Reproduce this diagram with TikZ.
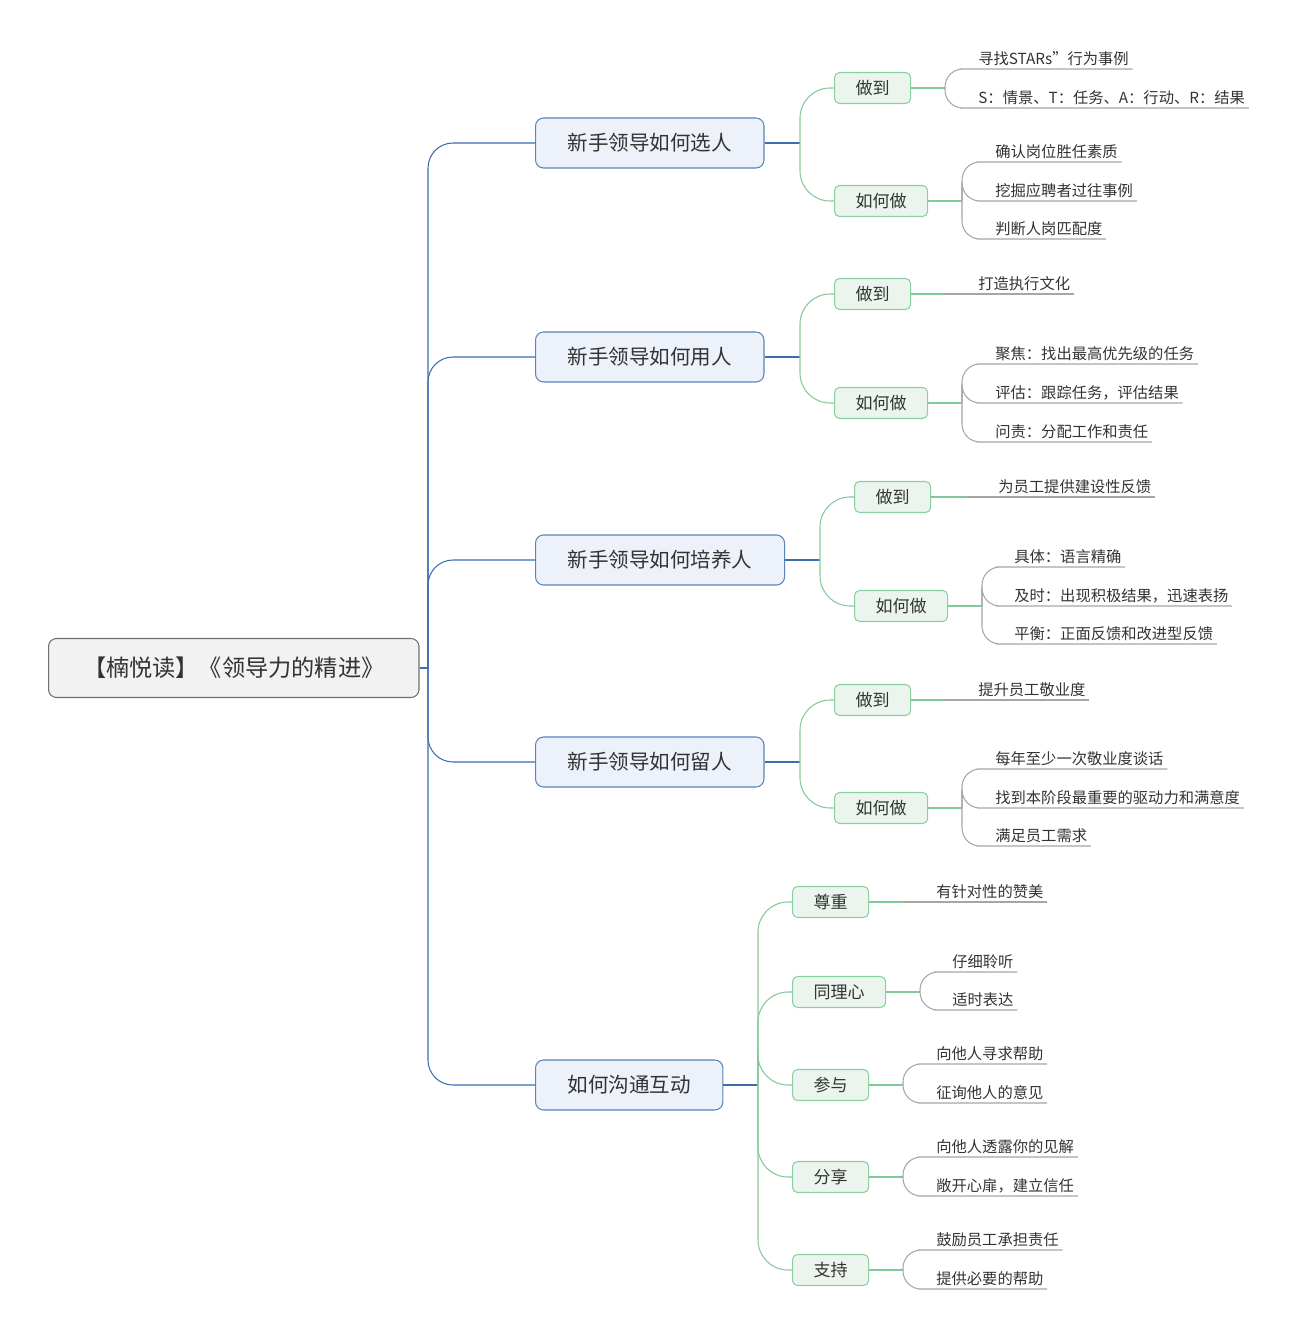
\documentclass[tikz,border=0pt]{standalone}
\usepackage{fontspec}
\setmainfont{Noto Sans CJK SC}
\usepackage{xcolor}
\usetikzlibrary{positioning}

\definecolor{mainblue}{HTML}{3B6DB0}
\definecolor{mainfill}{HTML}{EDF2FA}
\definecolor{subgreen}{HTML}{8ACFA0}
\definecolor{subfill}{HTML}{EBF5EE}
\definecolor{linegreen}{HTML}{82C99A}
\definecolor{leafgray}{HTML}{A6A6A6}
\definecolor{rootgray}{HTML}{6E6E6E}
\definecolor{rootfill}{HTML}{F2F2F2}
\definecolor{txt}{HTML}{333333}

\begin{document}
\begin{tikzpicture}[
    x=0.02cm, y=-0.02cm,
    root/.style={rectangle, draw=rootgray, fill=rootfill, rounded corners=0.16cm, line width=0.6pt, minimum height=1.18cm, inner xsep=0.69cm, anchor=west, text=txt, font=\fontsize{13.2}{15}\selectfont},
    topic/.style={rectangle, draw=mainblue!85, fill=mainfill, rounded corners=0.16cm, line width=0.6pt, minimum height=1cm, inner xsep=0.64cm, anchor=west, text=txt, font=\fontsize{11.7}{14}\selectfont},
    subtopic/.style={rectangle, draw=subgreen, fill=subfill, rounded corners=0.1cm, line width=0.6pt, minimum height=0.62cm, inner xsep=0.42cm, anchor=west, text=txt, font=\fontsize{9.7}{12}\selectfont},
    leaf/.style={anchor=south west, inner xsep=0pt, inner ysep=1.5pt, text=txt, font=\fontsize{8.7}{10}\selectfont},
    bline/.style={draw=mainblue, line width=0.6pt},
    gline/.style={draw=linegreen, line width=0.6pt},
    lline/.style={draw=leafgray, line width=0.6pt, rounded corners=0.36cm}
]
    \useasboundingbox (0,0) rectangle (1298,1337);

    % root and main topics
    \node[root] (root) at (48,668) {【楠悦读】《领导力的精进》};
    \node[topic] (xuan) at (535,143) {新手领导如何选人};
    \node[topic] (yong) at (535,357) {新手领导如何用人};
    \node[topic] (pei) at (535,560) {新手领导如何培养人};
    \node[topic] (liu) at (535,762) {新手领导如何留人};
    \node[topic] (gou) at (535,1085) {如何沟通互动};

    \coordinate (root-j) at (428,668);
    \draw[bline] (root.east) -- (root-j);
    \foreach \t in {xuan,yong,pei,liu,gou}
        \draw[bline, rounded corners=0.5cm] (root-j) |- (\t.west);

    % 选人
    \node[subtopic] (xuan-zd) at (834,88) {做到};
    \node[subtopic] (xuan-rh) at (834,201) {如何做};
    \coordinate (xuan-j) at (800,143);
    \draw[bline] (xuan.east) -- (xuan-j);
    \draw[gline, rounded corners=0.6cm] (xuan-j) |- (xuan-zd.west);
    \draw[gline, rounded corners=0.6cm] (xuan-j) |- (xuan-rh.west);

    \coordinate (xuan-zd-j) at (945,88);
    \draw[gline] (xuan-zd.east) -- (xuan-zd-j);
    \node[leaf] (xuan-zd-1) at (978,69) {寻找STARs”行为事例};
    \node[leaf] (xuan-zd-2) at (978,108) {S：情景、T：任务、A：行动、R：结果};
    \foreach \l in {1,2}
        \draw[lline] (xuan-zd-j) |- (xuan-zd-\l.south west) -- ([xshift=2pt]xuan-zd-\l.south east);

    \coordinate (xuan-rh-j) at (962,201);
    \draw[gline] (xuan-rh.east) -- (xuan-rh-j);
    \node[leaf] (xuan-rh-1) at (995,162) {确认岗位胜任素质};
    \node[leaf] (xuan-rh-2) at (995,201) {挖掘应聘者过往事例};
    \node[leaf] (xuan-rh-3) at (995,239) {判断人岗匹配度};
    \foreach \l in {1,2,3}
        \draw[lline] (xuan-rh-j) |- (xuan-rh-\l.south west) -- ([xshift=2pt]xuan-rh-\l.south east);

    % 用人
    \node[subtopic] (yong-zd) at (834,294) {做到};
    \node[subtopic] (yong-rh) at (834,403) {如何做};
    \coordinate (yong-j) at (800,357);
    \draw[bline] (yong.east) -- (yong-j);
    \draw[gline, rounded corners=0.6cm] (yong-j) |- (yong-zd.west);
    \draw[gline, rounded corners=0.6cm] (yong-j) |- (yong-rh.west);

    \coordinate (yong-zd-j) at (945,294);
    \draw[gline] (yong-zd.east) -- (yong-zd-j);
    \node[leaf] (yong-zd-1) at (978,294) {打造执行文化};
    \draw[lline] (yong-zd-j) -- (yong-zd-1.south west) -- ([xshift=2pt]yong-zd-1.south east);

    \coordinate (yong-rh-j) at (962,403);
    \draw[gline] (yong-rh.east) -- (yong-rh-j);
    \node[leaf] (yong-rh-1) at (995,364) {聚焦：找出最高优先级的任务};
    \node[leaf] (yong-rh-2) at (995,403) {评估：跟踪任务，评估结果};
    \node[leaf] (yong-rh-3) at (995,442) {问责：分配工作和责任};
    \foreach \l in {1,2,3}
        \draw[lline] (yong-rh-j) |- (yong-rh-\l.south west) -- ([xshift=2pt]yong-rh-\l.south east);

    % 培养人
    \node[subtopic] (pei-zd) at (854,497) {做到};
    \node[subtopic] (pei-rh) at (854,606) {如何做};
    \coordinate (pei-j) at (820,560);
    \draw[bline] (pei.east) -- (pei-j);
    \draw[gline, rounded corners=0.6cm] (pei-j) |- (pei-zd.west);
    \draw[gline, rounded corners=0.6cm] (pei-j) |- (pei-rh.west);

    \coordinate (pei-zd-j) at (967,497);
    \draw[gline] (pei-zd.east) -- (pei-zd-j);
    \node[leaf] (pei-zd-1) at (998,497) {为员工提供建设性反馈};
    \draw[lline] (pei-zd-j) -- (pei-zd-1.south west) -- ([xshift=2pt]pei-zd-1.south east);

    \coordinate (pei-rh-j) at (982,606);
    \draw[gline] (pei-rh.east) -- (pei-rh-j);
    \node[leaf] (pei-rh-1) at (1014,567) {具体：语言精确};
    \node[leaf] (pei-rh-2) at (1014,606) {及时：出现积极结果，迅速表扬};
    \node[leaf] (pei-rh-3) at (1014,644) {平衡：正面反馈和改进型反馈};
    \foreach \l in {1,2,3}
        \draw[lline] (pei-rh-j) |- (pei-rh-\l.south west) -- ([xshift=2pt]pei-rh-\l.south east);

    % 留人
    \node[subtopic] (liu-zd) at (834,700) {做到};
    \node[subtopic] (liu-rh) at (834,808) {如何做};
    \coordinate (liu-j) at (800,762);
    \draw[bline] (liu.east) -- (liu-j);
    \draw[gline, rounded corners=0.6cm] (liu-j) |- (liu-zd.west);
    \draw[gline, rounded corners=0.6cm] (liu-j) |- (liu-rh.west);

    \coordinate (liu-zd-j) at (945,700);
    \draw[gline] (liu-zd.east) -- (liu-zd-j);
    \node[leaf] (liu-zd-1) at (978,700) {提升员工敬业度};
    \draw[lline] (liu-zd-j) -- (liu-zd-1.south west) -- ([xshift=2pt]liu-zd-1.south east);

    \coordinate (liu-rh-j) at (962,808);
    \draw[gline] (liu-rh.east) -- (liu-rh-j);
    \node[leaf] (liu-rh-1) at (995,769) {每年至少一次敬业度谈话};
    \node[leaf] (liu-rh-2) at (995,808) {找到本阶段最重要的驱动力和满意度};
    \node[leaf] (liu-rh-3) at (995,846) {满足员工需求};
    \foreach \l in {1,2,3}
        \draw[lline] (liu-rh-j) |- (liu-rh-\l.south west) -- ([xshift=2pt]liu-rh-\l.south east);

    % 沟通互动
    \node[subtopic] (gou-zz) at (792,902) {尊重};
    \node[subtopic] (gou-tl) at (792,992) {同理心};
    \node[subtopic] (gou-cy) at (792,1085) {参与};
    \node[subtopic] (gou-fx) at (792,1177) {分享};
    \node[subtopic] (gou-zc) at (792,1270) {支持};
    \coordinate (gou-j) at (758,1085);
    \draw[bline] (gou.east) -- (gou-j);
    \foreach \s in {gou-zz,gou-tl,gou-cy,gou-fx,gou-zc}
        \draw[gline, rounded corners=0.6cm] (gou-j) |- (\s.west);

    \coordinate (gou-zz-j) at (905,902);
    \draw[gline] (gou-zz.east) -- (gou-zz-j);
    \node[leaf] (gou-zz-1) at (936,902) {有针对性的赞美};
    \draw[lline] (gou-zz-j) -- (gou-zz-1.south west) -- ([xshift=2pt]gou-zz-1.south east);

    \coordinate (gou-tl-j) at (920,992);
    \draw[gline] (gou-tl.east) -- (gou-tl-j);
    \node[leaf] (gou-tl-1) at (952,972) {仔细聆听};
    \node[leaf] (gou-tl-2) at (952,1010) {适时表达};

    \coordinate (gou-cy-j) at (903,1085);
    \draw[gline] (gou-cy.east) -- (gou-cy-j);
    \node[leaf] (gou-cy-1) at (936,1064) {向他人寻求帮助};
    \node[leaf] (gou-cy-2) at (936,1103) {征询他人的意见};

    \coordinate (gou-fx-j) at (903,1177);
    \draw[gline] (gou-fx.east) -- (gou-fx-j);
    \node[leaf] (gou-fx-1) at (936,1157) {向他人透露你的见解};
    \node[leaf] (gou-fx-2) at (936,1196) {敞开心扉，建立信任};

    \coordinate (gou-zc-j) at (903,1270);
    \draw[gline] (gou-zc.east) -- (gou-zc-j);
    \node[leaf] (gou-zc-1) at (936,1250) {鼓励员工承担责任};
    \node[leaf] (gou-zc-2) at (936,1289) {提供必要的帮助};

    \foreach \s in {gou-tl,gou-cy,gou-fx,gou-zc}
        \foreach \l in {1,2}
            \draw[lline] (\s-j) |- (\s-\l.south west) -- ([xshift=2pt]\s-\l.south east);
\end{tikzpicture}
\end{document}
